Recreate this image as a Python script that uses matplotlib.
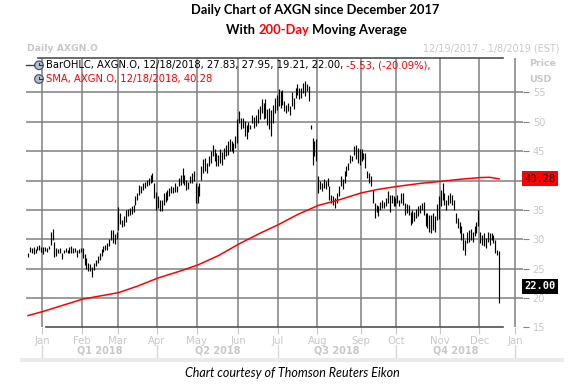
import numpy as np
import matplotlib.pyplot as plt
from matplotlib.lines import Line2D
from matplotlib.patches import Circle
from matplotlib.offsetbox import TextArea, HPacker, AnnotationBbox

W, H = 586, 391

# daily bars, trading days 12/19/2017 .. 12/18/2018 (high / low, USD)
hi_dec17 = [27.7, 28.6, 28.5, 28.6, 28.4, 28.9, 29.0, 28.7]
lo_dec17 = [26.9, 27.9, 27.6, 27.5, 27.6, 28.2, 28.2, 27.9]
hi_jan = [28.6, 28.7, 28.5, 28.9, 31.3, 31.8, 29.6, 28.5, 28.3, 28.5, 27.7, 28.2, 28.5, 28.2, 28.6, 28.8, 28.5, 28.5, 28.2, 28.3, 28.5]
lo_jan = [27.5, 28.0, 27.9, 28.4, 29.0, 29.8, 26.9, 27.2, 27.6, 27.6, 26.6, 27.6, 27.9, 27.6, 27.6, 27.7, 27.6, 27.9, 26.9, 27.6, 27.9]
hi_feb = [28.5, 27.5, 26.8, 25.9, 25.7, 25.2, 25.9, 26.5, 27.2, 27.6, 28.3, 28.9, 29.0, 29.3, 30.0, 31.6, 31.6, 30.9, 31.2]
lo_feb = [26.8, 25.6, 24.9, 24.6, 24.6, 23.6, 24.7, 25.4, 25.9, 26.5, 27.2, 27.9, 28.2, 28.2, 28.9, 29.8, 29.3, 29.2, 30.0]
hi_mar = [35.5, 34.4, 33.3, 33.9, 35.0, 35.1, 35.3, 35.6, 35.9, 37.3, 37.8, 39.3, 39.0, 39.5, 39.8, 40.1, 40.4, 40.9, 41.2, 39.5, 38.1]
lo_mar = [31.6, 32.6, 32.0, 32.3, 33.0, 33.9, 34.2, 34.3, 34.7, 35.9, 36.7, 37.6, 37.8, 38.4, 38.7, 39.1, 39.3, 39.5, 39.8, 37.0, 35.0]
hi_apr = [37.3, 36.7, 36.7, 37.8, 38.1, 38.4, 38.7, 39.0, 38.9, 39.5, 39.1, 40.5, 41.0, 42.2, 41.0, 40.1, 39.8, 40.8, 41.3, 41.6, 39.5]
lo_apr = [35.3, 34.8, 34.8, 35.9, 36.4, 36.7, 37.3, 37.8, 37.8, 38.1, 38.0, 39.0, 39.3, 39.5, 39.3, 38.4, 38.5, 39.5, 39.5, 39.9, 36.1]
hi_may = [39.0, 39.6, 42.4, 43.6, 43.9, 43.0, 44.1, 45.0, 46.1, 45.3, 44.7, 44.4, 45.3, 44.8, 45.5, 46.1, 46.7, 47.1, 46.7, 46.4, 47.6, 50.4]
lo_may = [36.2, 37.3, 40.1, 41.3, 41.6, 41.3, 42.4, 43.0, 44.1, 43.3, 42.4, 42.4, 43.0, 42.6, 43.6, 44.1, 44.4, 45.0, 45.0, 44.7, 45.5, 46.4]
hi_jun = [51.8, 50.7, 50.7, 50.1, 49.5, 50.0, 49.5, 51.2, 50.9, 51.2, 52.1, 52.7, 53.8, 53.2, 53.8, 52.1, 52.4, 52.0, 52.9, 54.0, 54.5]
lo_jun = [49.8, 48.7, 49.0, 47.5, 47.0, 48.3, 48.7, 49.8, 48.9, 49.2, 49.8, 50.4, 51.5, 50.4, 50.6, 49.5, 48.7, 47.5, 49.8, 51.5, 52.0]
hi_jul = [55.6, 55.2, 55.5, 53.5, 52.9, 53.2, 52.7, 55.0, 54.1, 55.8, 56.4, 55.8, 55.8, 56.6, 56.9, 56.4, 56.1, 49.5, 47.3, 46.7, 47.0]
lo_jul = [52.7, 52.4, 52.9, 51.8, 51.5, 51.8, 51.2, 52.7, 52.1, 54.0, 54.6, 53.8, 54.0, 54.9, 54.4, 55.2, 53.5, 48.7, 42.7, 44.1, 43.3]
hi_aug = [40.7, 39.9, 39.6, 40.2, 39.9, 40.4, 39.0, 37.6, 37.3, 37.0, 37.9, 39.0, 40.7, 40.2, 41.6, 42.4, 43.0, 44.4, 44.1, 45.8, 46.1, 45.5, 45.3]
lo_aug = [37.9, 38.5, 38.2, 38.8, 38.5, 39.0, 36.7, 36.2, 35.9, 35.3, 36.2, 37.3, 39.0, 38.5, 39.6, 40.7, 41.8, 43.0, 43.3, 44.4, 43.6, 43.0, 42.7]
hi_sep = [45.3, 44.7, 44.7, 41.6, 41.3, 40.7, 38.4, 36.2, 35.9, 35.6, 36.4, 36.7, 36.4, 37.0, 38.2, 37.6, 37.6, 37.3, 37.0]
lo_sep = [43.3, 43.6, 42.1, 40.4, 39.6, 39.0, 36.2, 33.6, 34.7, 34.0, 35.0, 35.3, 35.3, 35.6, 36.2, 34.7, 36.2, 35.6, 35.6]
hi_oct = [37.6, 36.7, 37.9, 37.9, 36.2, 36.0, 35.9, 34.7, 35.0, 34.7, 35.2, 35.6, 35.9, 36.2, 36.4, 34.5, 34.5, 34.2, 34.2, 34.5, 33.9, 36.0, 37.3]
lo_oct = [36.2, 35.6, 36.2, 35.9, 34.2, 34.5, 34.2, 32.5, 32.8, 33.1, 33.6, 33.9, 34.5, 35.0, 34.2, 32.2, 31.9, 31.3, 31.0, 31.6, 31.3, 33.3, 33.5]
hi_nov = [38.4, 39.6, 37.9, 36.7, 37.6, 37.9, 37.6, 36.7, 34.5, 33.6, 33.0, 32.2, 31.0, 29.9, 31.3, 31.5, 31.8, 31.3, 32.2, 33.0, 35.0]
lo_nov = [35.6, 36.7, 35.9, 35.0, 35.9, 36.2, 35.9, 35.0, 32.7, 31.9, 31.0, 29.9, 28.2, 27.3, 29.3, 29.6, 29.9, 29.6, 30.5, 31.0, 32.2]
hi_dec = [31.3, 30.7, 31.0, 30.2, 31.3, 31.0, 31.0, 30.7, 29.9, 28.2, 27.95]
lo_dec = [29.3, 29.0, 28.8, 28.5, 29.6, 29.0, 29.9, 29.3, 27.6, 27.3, 19.21]

highs = hi_dec17 + hi_jan + hi_feb + hi_mar + hi_apr + hi_may + hi_jun + hi_jul + hi_aug + hi_sep + hi_oct + hi_nov + hi_dec
lows = lo_dec17 + lo_jan + lo_feb + lo_mar + lo_apr + lo_may + lo_jun + lo_jul + lo_aug + lo_sep + lo_oct + lo_nov + lo_dec
bar_x = np.arange(len(highs)) - len(hi_dec17)

# 200-day simple moving average, read at sample days
sma_x = [-8, 0, 10, 21, 40, 50, 61, 72, 82, 93, 104, 115, 125, 135, 146, 157, 169, 178, 188, 200, 211, 221, 232, 237, 242]
sma_y = [17.0, 17.7, 18.7, 19.8, 20.9, 22.0, 23.4, 24.5, 25.6, 27.2, 29.2, 31.0, 32.5, 34.2, 35.75, 36.7, 37.9, 38.5, 39.0, 39.5, 39.85, 40.2, 40.5, 40.55, 40.28]

# first trading day of each month (index 0 = Jan 2, 2018)
month_start = [0, 21, 40, 61, 82, 104, 125, 146, 169, 188, 211, 232, 251]
month_lbl = ['Jan', 'Feb', 'Mar', 'Apr', 'May', 'Jun', 'Jul', 'Aug', 'Sep', 'Oct', 'Nov', 'Dec', 'Jan']
quarters = ['Q1 2018', 'Q2 2018', 'Q3 2018', 'Q4 2018']
yticks = [15, 20, 25, 30, 35, 40, 45, 50, 55]
ytick_lbl = ['15', '20', '25', '30', '35', '', '45', '50', '55']

last_sma = 40.28
last_close = 22.00

GRID = '#808080'
LIGHT = '#c8c8c8'


def fx(x):
    return x / W


def fy(y):
    return 1 - y / H


fig = plt.figure(figsize=(W / 100, H / 100), dpi=100)
ax = fig.add_axes([fx(26), fy(327.3), fx(523) - fx(26), fy(57.5) - fy(327.3)])

grid_x = [m - 0.5 for m in month_start]
ax.set_xlim(-9.08, 254.7)
ax.set_ylim(15, 60.95)
for s in ax.spines.values():
    s.set_visible(False)

ax.set_xticks(grid_x)
ax.set_xticklabels(month_lbl)
ax.set_yticks(yticks)
ax.set_yticklabels(ytick_lbl)
ax.yaxis.tick_right()
ax.tick_params(axis='x', colors=LIGHT, length=5, pad=1, labelsize=7.3, labelcolor=LIGHT)
ax.tick_params(axis='y', colors=GRID, length=4, pad=3, labelsize=7, labelcolor=LIGHT)

# grid
ax.hlines(yticks[1:], -9.08, 254.7, color=GRID, lw=1.1, zorder=1)
ax.vlines(grid_x, 15, 60.95, color=GRID, lw=1.1, zorder=1)

ax.vlines(bar_x, lows, highs, color='black', lw=0.85, zorder=3)
ax.plot(sma_x, sma_y, color='#ff0000', lw=1.1, zorder=4)

# price tags on the right
ax.text(1.003, last_sma, '40.28', transform=ax.get_yaxis_transform(), va='center', ha='left',
        fontsize=7.5, family='DejaVu Sans Mono', color='black', clip_on=False,
        bbox=dict(boxstyle='square,pad=0.25', fc='#ff0000', ec='none'))
ax.text(1.003, last_close, '22.00', transform=ax.get_yaxis_transform(), va='center', ha='left',
        fontsize=7.5, family='DejaVu Sans Mono', weight='bold', color='white', clip_on=False,
        bbox=dict(boxstyle='square,pad=0.25', fc='black', ec='none'))

# quarter labels and separators
for i, q in enumerate(quarters):
    a, b = grid_x[3 * i], grid_x[3 * i + 3]
    ax.text((a + b) / 2, -0.087, q, transform=ax.get_xaxis_transform(), ha='center', va='center',
            fontsize=7, weight='bold', color=LIGHT)
for k in range(0, 13, 3):
    ax.plot([grid_x[k]] * 2, [-0.065, -0.11], transform=ax.get_xaxis_transform(),
            color='#d8d8d8', lw=1, clip_on=False)

# frame lines
fig.add_artist(Line2D([fx(38), fx(502.7)], [fy(57.5)] * 2, color='#505050', lw=1.2))
fig.add_artist(Line2D([fx(46), fx(502.7)], [fy(327.3)] * 2, color='#505050', lw=1.2))
fig.add_artist(Line2D([fx(21.7), fx(561.7)], [fy(359.5)] * 2, color='#ebebeb', lw=3))

# titles
fig.text(fx(315.5), fy(10), 'Daily Chart of AXGN since December 2017', ha='center', va='center',
         family='Lato', weight='bold', fontsize=9.3)
t2 = HPacker(children=[TextArea('With ', textprops=dict(family='Lato', weight='bold', size=9.3, color='black')),
                       TextArea('200-Day', textprops=dict(family='Lato', weight='bold', size=9.3, color='#ff0000')),
                       TextArea(' Moving Average', textprops=dict(family='Lato', weight='bold', size=9.3, color='black'))],
             pad=0, sep=0)
fig.add_artist(AnnotationBbox(t2, (fx(316.5), fy(30.5)), xycoords='figure fraction', frameon=False,
                              box_alignment=(0.5, 0.5), pad=0))

fig.text(fx(26.7), fy(48.3), 'Daily AXGN.O', ha='left', va='center', fontsize=6.7, weight='bold', color=LIGHT)
fig.text(fx(559.3), fy(48.3), '12/19/2017 - 1/8/2019 (EST)', ha='right', va='center', fontsize=6.9, color=LIGHT)
fig.text(fx(529), fy(64), 'Price', ha='left', va='center', fontsize=6.8, weight='bold', color=LIGHT)
fig.text(fx(529), fy(79), 'USD', ha='left', va='center', fontsize=6.8, weight='bold', color=LIGHT)

# legend rows
lp = dict(family='DejaVu Sans', size=7.2)
row1 = HPacker(children=[TextArea('BarOHLC, AXGN.O, 12/18/2018, 27.83, 27.95, 19.21, 22.00, ', textprops=dict(color='black', **lp)),
                         TextArea('-5.53, (-20.09%),', textprops=dict(color='#ff0000', **lp))], pad=0, sep=0)
fig.add_artist(AnnotationBbox(row1, (fx(45.7), fy(65.3)), xycoords='figure fraction', frameon=False,
                              box_alignment=(0, 0.5), pad=0))
fig.text(fx(45.7), fy(79), 'SMA, AXGN.O, 12/18/2018, 40.28', ha='left', va='center', color='#ff0000', **lp)
fig.add_artist(Line2D([fx(26), fx(34)], [fy(65.3)] * 2, color='#404040', lw=1))
for yy in (65.3, 79):
    fig.add_artist(Circle((39, H - yy), 4.3, transform=None, fc='#b4c0d0', ec='#4a5566', lw=0.9))
    fig.add_artist(Line2D([39, 39, 41.5], [H - yy + 2.5, H - yy, H - yy], transform=None, color='#303030', lw=0.8))

fig.text(fx(292), fy(373), 'Chart courtesy of Thomson Reuters Eikon', ha='center', va='center',
         family='Lato', style='italic', fontsize=9)

fig.savefig('out.png', dpi=100)
